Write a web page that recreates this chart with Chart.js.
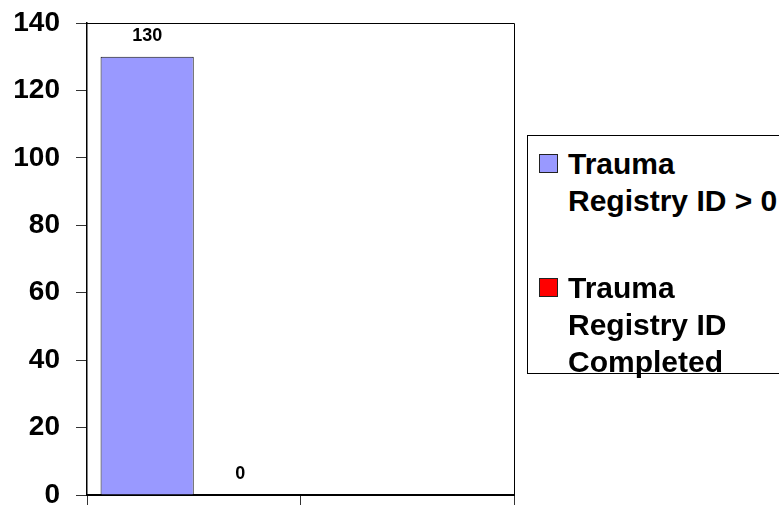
<!DOCTYPE html>
<html>
<head>
<meta charset="utf-8">
<script src="https://cdn.jsdelivr.net/npm/chart.js@4/dist/chart.umd.min.js"></script>
<style>
  html, body { margin: 0; padding: 0; background: #fff; overflow: hidden; }
  #wrap { position: relative; width: 779px; height: 505px; }
  #legend {
    position: absolute; left: 527px; top: 135px; width: 300px; height: 239px;
    border: 1px solid #000; box-sizing: border-box; background: #fff;
    font-family: "Liberation Sans", Arial, sans-serif; font-weight: bold;
    font-size: 30px; line-height: 37px; color: #000;
  }
  .item { position: absolute; left: 0; }
  .swatch { position: absolute; left: 11px; width: 19px; height: 19px; box-sizing: border-box; border: 1px solid #222; }
  .text { position: absolute; left: 40px; width: 220px; }
</style>
</head>
<body>
<div id="wrap">
  <canvas id="c" width="779" height="505"></canvas>
  <div id="legend"></div>
</div>
<script>
// Categories along the x axis (two slots, only the first carries data)
const categories = ["", ""];
// Series names and values
const seriesNames = ["Trauma Registry ID > 0", "Trauma Registry ID Completed"];
const registryAboveZero = [130, null];
const registryCompleted = [0, null];
// Y axis tick values
const yTicks = [0, 20, 40, 60, 80, 100, 120, 140];

const seriesColors = ["#9999FF", "#FF0000"];
const FONT = '"Liberation Sans", Arial, sans-serif';

// Frame lines on top and right of the plot area
const framePlugin = {
  id: 'frame',
  afterDraw(chart) {
    const { ctx, chartArea: a } = chart;
    ctx.save();
    ctx.strokeStyle = '#000';
    ctx.lineWidth = 1;
    ctx.beginPath();
    ctx.moveTo(a.left, a.top + 0.5);
    ctx.lineTo(a.right + 0.5, a.top + 0.5);
    ctx.lineTo(a.right + 0.5, a.bottom);
    ctx.stroke();
    ctx.restore();
  }
};

// Value labels above each bar
const valueLabels = {
  id: 'valueLabels',
  afterDatasetsDraw(chart) {
    const { ctx } = chart;
    ctx.save();
    ctx.font = 'bold 18px ' + FONT;
    ctx.fillStyle = '#000';
    ctx.textAlign = 'center';
    ctx.textBaseline = 'alphabetic';
    chart.data.datasets.forEach((ds, i) => {
      chart.getDatasetMeta(i).data.forEach((bar, j) => {
        const v = ds.data[j];
        if (v === null || v === undefined) return;
        ctx.fillText(String(v), bar.x, bar.y - 16);
      });
    });
    ctx.restore();
  }
};

const chart = new Chart(document.getElementById('c'), {
  type: 'bar',
  data: {
    labels: categories,
    datasets: [
      { label: seriesNames[0], data: registryAboveZero, backgroundColor: seriesColors[0],
        borderColor: '#111', borderWidth: 1, categoryPercentage: 0.873, barPercentage: 1.0 },
      { label: seriesNames[1], data: registryCompleted, backgroundColor: seriesColors[1],
        borderColor: '#111', borderWidth: 1, categoryPercentage: 0.873, barPercentage: 1.0 }
    ]
  },
  options: {
    responsive: false,
    animation: false,
    layout: { padding: { left: 0, top: 23, right: 265, bottom: 0 } },
    plugins: { legend: { display: false }, tooltip: { enabled: false } },
    scales: {
      x: {
        offset: true,
        border: { display: true, color: '#000', width: 2 },
        grid: { display: true, offset: true, drawOnChartArea: false, drawTicks: true,
                tickLength: 10, color: '#333', lineWidth: 1 },
        ticks: { display: false },
        afterFit(s) { s.height = 10; s.paddingLeft = 0; s.paddingRight = 0; }
      },
      y: {
        min: 0, max: 140,
        afterBuildTicks(s) { s.ticks = yTicks.map(v => ({ value: v })); },
        border: { display: true, color: '#000', width: 1.5 },
        grid: { display: true, drawOnChartArea: false, drawTicks: true, tickLength: 11, color: '#333' },
        ticks: { color: '#000', padding: 16, font: { family: FONT, size: 28, weight: 'bold' } },
        afterFit(s) { s.width = 87; s.paddingTop = 0; s.paddingBottom = 0; }
      }
    }
  },
  plugins: [framePlugin, valueLabels]
});

// HTML legend built from the chart's datasets
(function buildLegend() {
  const box = document.getElementById('legend');
  const tops = [9, 133];
  chart.data.datasets.forEach((ds, i) => {
    const item = document.createElement('div');
    item.className = 'item';
    item.style.top = tops[i] + 'px';
    const sw = document.createElement('div');
    sw.className = 'swatch';
    sw.style.background = ds.backgroundColor;
    sw.style.top = '9px';
    const tx = document.createElement('div');
    tx.className = 'text';
    tx.textContent = ds.label;
    item.appendChild(sw);
    item.appendChild(tx);
    box.appendChild(item);
  });
})();
</script>
</body>
</html>
